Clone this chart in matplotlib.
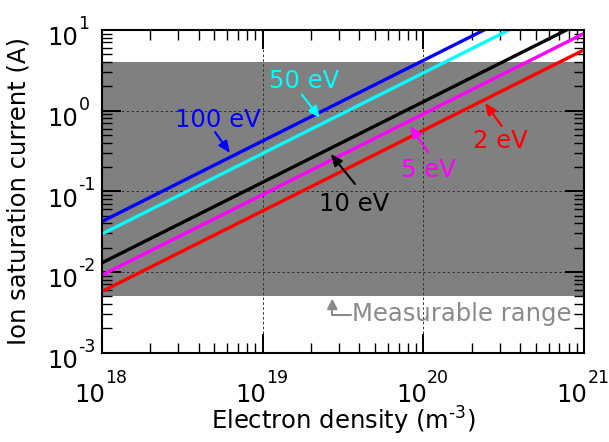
import matplotlib
matplotlib.use("Agg")
import matplotlib.pyplot as plt

plt.rcParams['font.family'] = ['DejaVu Sans']
plt.rcParams['mathtext.default'] = 'regular'

# ---- data ----
density_ends = [1e18, 1e21]
temp_labels = ['100 eV', '50 eV', '10 eV', '5 eV', '2 eV']
line_colors = ['#0000ff', '#00ffff', '#000000', '#ff00ff', '#ff0000']
isat_start = [0.042, 0.0294, 0.0129, 0.0091, 0.0057]   # A at 1e18 m^-3
isat_end = [42.0, 29.4, 12.9, 9.1, 5.7]                # A at 1e21 m^-3
measurable_range = [5e-3, 4.0]
xtick_vals = [1e18, 1e19, 1e20, 1e21]
xtick_exps = ['18', '19', '20', '21']
ytick_vals = [1e-3, 1e-2, 1e-1, 1e0, 1e1]
ytick_exps = ['-3', '-2', '-1', '0', '1']
tick_base = '10'

W, H = 609, 442
fig = plt.figure(figsize=(W / 100, H / 100), dpi=100)
AX_L, AX_R, AX_T, AX_B = 101.7, 584.3, 30.0, 352.5
ax = fig.add_axes([AX_L / W, 1 - AX_B / H, (AX_R - AX_L) / W, (AX_B - AX_T) / H])
ax.set_xscale('log')
ax.set_yscale('log')
ax.set_xlim(1e18, 1e21)
ax.set_ylim(1e-3, 1e1)
PT = 0.72  # points per pixel at 100 dpi


def P(x, y):
    """pixel position in the picture -> data coordinates"""
    return (10 ** (18 + 3 * (x - AX_L) / (AX_R - AX_L)),
            10 ** (-3 + 4 * (AX_B - y) / (AX_B - AX_T)))


ax.axhspan(measurable_range[0], measurable_range[1], color='#808080', lw=0, zorder=1)
ax.set_axisbelow('line')
ax.grid(True, which='major', ls=(0, (2.5, 2.5)), lw=0.7, color='#303030')

for lab, c, y0, y1 in zip(temp_labels, line_colors, isat_start, isat_end):
    ax.plot(density_ends, [y0, y1], color=c, lw=2.4, zorder=3, solid_capstyle='butt')

# annotations: (text baseline centre, arrow tail, arrow head) in picture pixels
ann_pos = {
    '100 eV': ((218, 127), (215, 132), (230, 153)),
    '50 eV': ((303.7, 88.5), (301.7, 94.3), (320, 118)),
    '10 eV': ((354, 210.7), (355, 184), (330.7, 154)),
    '5 eV': ((428.3, 176.7), (428, 152), (410, 126)),
    '2 eV': ((500, 148.3), (501.7, 126), (485, 103)),
}
FS = 17.5
SFS = 12.5
for lab, c in zip(temp_labels, line_colors):
    tp, tail, head = ann_pos[lab]
    ax.text(*P(*tp), lab, color=c, fontsize=FS, ha='center', va='baseline', zorder=5)
    ax.annotate('', xy=P(*head), xytext=P(*tail),
                arrowprops=dict(arrowstyle='-|>,head_length=0.7,head_width=0.3',
                                color=c, lw=1.5, shrinkA=0, shrinkB=0, mutation_scale=10),
                zorder=5)

gray_txt = '#8a8a8a'
ax.text(*P(461.3, 321.5), 'Measurable range', color=gray_txt, fontsize=FS,
        ha='center', va='baseline', zorder=5)
ax.annotate('', xy=P(332.3, 298.5), xytext=P(351, 315),
            arrowprops=dict(arrowstyle='-|>,head_length=0.6,head_width=0.3',
                            connectionstyle='angle,angleA=0,angleB=90,rad=0',
                            color=gray_txt, lw=1.5, shrinkA=0, shrinkB=0, mutation_scale=10),
            zorder=5)

# ticks (labels drawn as base + raised exponent)
ax.set_xticks(xtick_vals)
ax.set_yticks(ytick_vals)
ax.tick_params(which='both', direction='in', top=True, right=True,
               labelbottom=False, labelleft=False)
ax.tick_params(which='major', length=14, width=1.4)
ax.tick_params(which='minor', length=7, width=1.0)

for tv, e in zip(xtick_vals, xtick_exps):
    ax.annotate(tick_base, xy=(tv, 0), xycoords=('data', 'axes fraction'),
                xytext=(3.3 * PT, -49.2 * PT), textcoords='offset points',
                ha='right', va='baseline', fontsize=FS, annotation_clip=False)
    ax.annotate(e, xy=(tv, 0), xycoords=('data', 'axes fraction'),
                xytext=(3.3 * PT, -30.2 * PT), textcoords='offset points',
                ha='left', va='baseline', fontsize=SFS, annotation_clip=False)

for tv, e in zip(ytick_vals, ytick_exps):
    ax.annotate(tick_base, xy=(0, tv), xycoords=('axes fraction', 'data'),
                xytext=(-23.2 * PT, -15.3 * PT), textcoords='offset points',
                ha='right', va='baseline', fontsize=FS, annotation_clip=False)
    ax.annotate(e, xy=(0, tv), xycoords=('axes fraction', 'data'),
                xytext=(-23.2 * PT, 1.0 * PT), textcoords='offset points',
                ha='left', va='baseline', fontsize=SFS, annotation_clip=False)

for s in ax.spines.values():
    s.set_linewidth(1.5)
    s.set_zorder(6)

ax.set_xlabel('Electron density (m$^{\u20103}$)', fontsize=FS)
ax.set_ylabel('Ion saturation current (A)', fontsize=FS)
ax.xaxis.set_label_coords(0.5, -(430 - AX_B) / (AX_B - AX_T))
ax.xaxis.label.set_verticalalignment('baseline')
ax.yaxis.set_label_coords(-(AX_L - 30.5) / (AX_R - AX_L), 0.5)

fig.savefig('out.png', dpi=100)
